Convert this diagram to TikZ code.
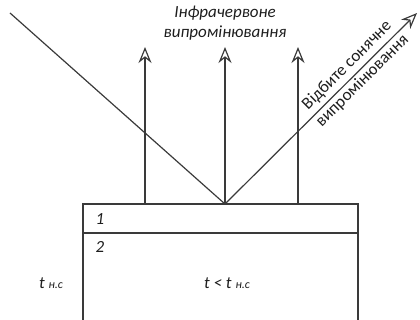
\documentclass[tikz,border=0pt]{standalone}
\usepackage{fontspec}
\setmainfont{Carlito}
\usetikzlibrary{arrows.meta}
\definecolor{lineC}{HTML}{3A3A3A}
\definecolor{txtC}{HTML}{1E1E1E}
\newcommand{\subsm}[1]{{\fontsize{12}{14}\selectfont #1}}
\begin{document}
\begin{tikzpicture}[x=1pt,y=-1pt]
\tikzset{
  ray/.style={draw=lineC, line width=1.2pt},
  arr/.style={ray, -{Stealth[open, length=16pt, width=13pt, line width=1.2pt]}},
  lbl/.style={font=\itshape\fontsize{17}{20}\selectfont, text=txtC, inner sep=1pt},
  rlbl/.style={font=\fontsize{17}{20}\selectfont, text=txtC, inner sep=1pt, rotate=44.85}
}
\useasboundingbox (0,0) rectangle (420,320);
% coordinates
\coordinate (src) at (10,13);
\coordinate (hit) at (225,204);
\coordinate (refl) at (417,13);
\coordinate (tl) at (83,204);
\coordinate (tr) at (358,204);
\coordinate (bl) at (83,320);
\coordinate (br) at (358,320);
\coordinate (ml) at (83,233);
\coordinate (mr) at (358,233);
\coordinate (a1) at (145,204);
\coordinate (a1t) at (145,47);
\coordinate (a2) at (225,204);
\coordinate (a2t) at (225,47);
\coordinate (a3) at (298,204);
\coordinate (a3t) at (298,47);
% box
\draw[ray] (bl) -- (tl) -- (tr) -- (br);
\draw[ray] (ml) -- (mr);
% rays
\draw[ray] (src) -- (hit);
\draw[arr] (hit) -- (refl);
\draw[arr] (a1) -- (a1t);
\draw[arr] (a2) -- (a2t);
\draw[arr] (a3) -- (a3t);
% labels
\node[lbl, align=center] (ir) at (225,23) {Інфрачервоне\\випромінювання};
\node[rlbl, anchor=south] (rs1) at (353,71.5) {Відбите сонячне};
\node[rlbl, anchor=north] (rs2) at (356.5,75) {випромінювання};
\node[lbl] (n1) at (100,219) {1};
\node[lbl] (n2) at (100,247) {2};
\node[lbl] (tns) at (51,283) {t \subsm{н.с}};
\node[lbl] (tlt) at (227,283) {t < t \subsm{н.с}};
\end{tikzpicture}
\end{document}
